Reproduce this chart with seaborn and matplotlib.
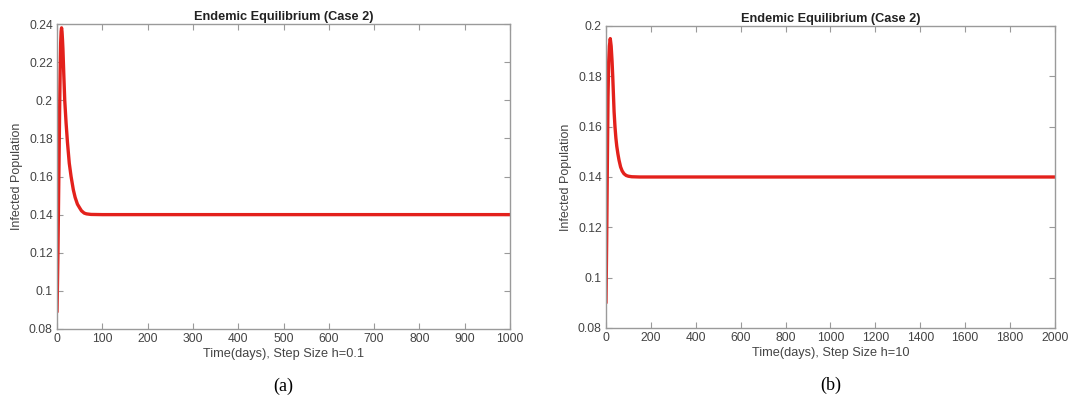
import pandas as pd
import matplotlib
matplotlib.use("Agg")
import matplotlib.pyplot as plt
import seaborn as sns

# Courbe (a) : pas h=0.1, horizon 1000 jours
t_a = [0, 1, 2, 3, 4, 5, 6, 7, 8, 9, 10, 11, 12, 13, 14, 15, 17, 20, 23, 27,
       31, 36, 40, 45, 50, 54, 60, 65, 75, 100, 1000]
i_a = [0.089, 0.104, 0.120, 0.140, 0.160, 0.180, 0.200, 0.217, 0.230, 0.236, 0.238,
       0.236, 0.232, 0.227, 0.220, 0.213, 0.200, 0.188, 0.178, 0.167,
       0.160, 0.153, 0.149, 0.1455, 0.1435, 0.142, 0.1408, 0.1404, 0.1401, 0.140, 0.140]

# Courbe (b) : pas h=10, horizon 2000 jours
t_b = [0, 3, 6, 9, 12, 15, 19, 23, 27, 30, 33, 36, 40, 44, 48, 53, 58, 65, 72,
       80, 90, 100, 115, 150, 2000]
i_b = [0.090, 0.115, 0.145, 0.172, 0.186, 0.192, 0.195, 0.192, 0.186, 0.180,
       0.173, 0.166, 0.160, 0.1555, 0.1522, 0.1492, 0.1467, 0.1440, 0.1424,
       0.1413, 0.1406, 0.1403, 0.1401, 0.140, 0.140]

titre = "Endemic Equilibrium (Case 2)"
ylab = "Infected Population"
xlab_a = "Time(days), Step Size h=0.1"
xlab_b = "Time(days), Step Size h=10"

sns.set_style("white")
plt.rcParams["font.family"] = ["Liberation Sans", "DejaVu Sans"]

fig = plt.figure(figsize=(10.72, 4.12), dpi=100)
ax_a = fig.add_axes([0.0532, 0.2015, 0.4226, 0.7402])
ax_b = fig.add_axes([0.5653, 0.2039, 0.4188, 0.7330])

df_a = pd.DataFrame({"t": t_a, "I": i_a})
df_b = pd.DataFrame({"t": t_b, "I": i_b})

rouge = "#e3211c"
sns.lineplot(data=df_a, x="t", y="I", ax=ax_a, color=rouge, linewidth=2.4)
sns.lineplot(data=df_b, x="t", y="I", ax=ax_b, color=rouge, linewidth=2.4)

ax_a.set_xlim(0, 1000)
ax_a.set_ylim(0.08, 0.24)
ax_a.set_xticks(range(0, 1001, 100))
ax_a.set_yticks([0.08, 0.1, 0.12, 0.14, 0.16, 0.18, 0.2, 0.22, 0.24])
ax_a.set_yticklabels(["0.08", "0.1", "0.12", "0.14", "0.16", "0.18", "0.2", "0.22", "0.24"])

ax_b.set_xlim(0, 2000)
ax_b.set_ylim(0.08, 0.2)
ax_b.set_xticks(range(0, 2001, 200))
ax_b.set_yticks([0.08, 0.1, 0.12, 0.14, 0.16, 0.18, 0.2])
ax_b.set_yticklabels(["0.08", "0.1", "0.12", "0.14", "0.16", "0.18", "0.2"])

for ax, xl, lettre in [(ax_a, xlab_a, "(a)"), (ax_b, xlab_b, "(b)")]:
    ax.set_title(titre, fontsize=9.2, fontweight="bold", color="#222222", pad=3)
    ax.set_xlabel(xl, fontsize=9.2, color="#444444", labelpad=2)
    ax.set_ylabel(ylab, fontsize=9, color="#444444", labelpad=4)
    for s in ax.spines.values():
        s.set_visible(True)
        s.set_color("#9a9a9a")
        s.set_linewidth(1.0)
    ax.tick_params(direction="in", length=4, width=0.8, color="#9a9a9a",
                   labelsize=8.7, labelcolor="#444444", top=True, right=True,
                   bottom=True, left=True, pad=3)
    ax.grid(False)
    ax.text(0.5, -0.16, lettre, transform=ax.transAxes, ha="center", va="top",
            fontsize=13, family=["Liberation Serif", "DejaVu Serif"], color="black")

plt.savefig("out.png", dpi=100)
